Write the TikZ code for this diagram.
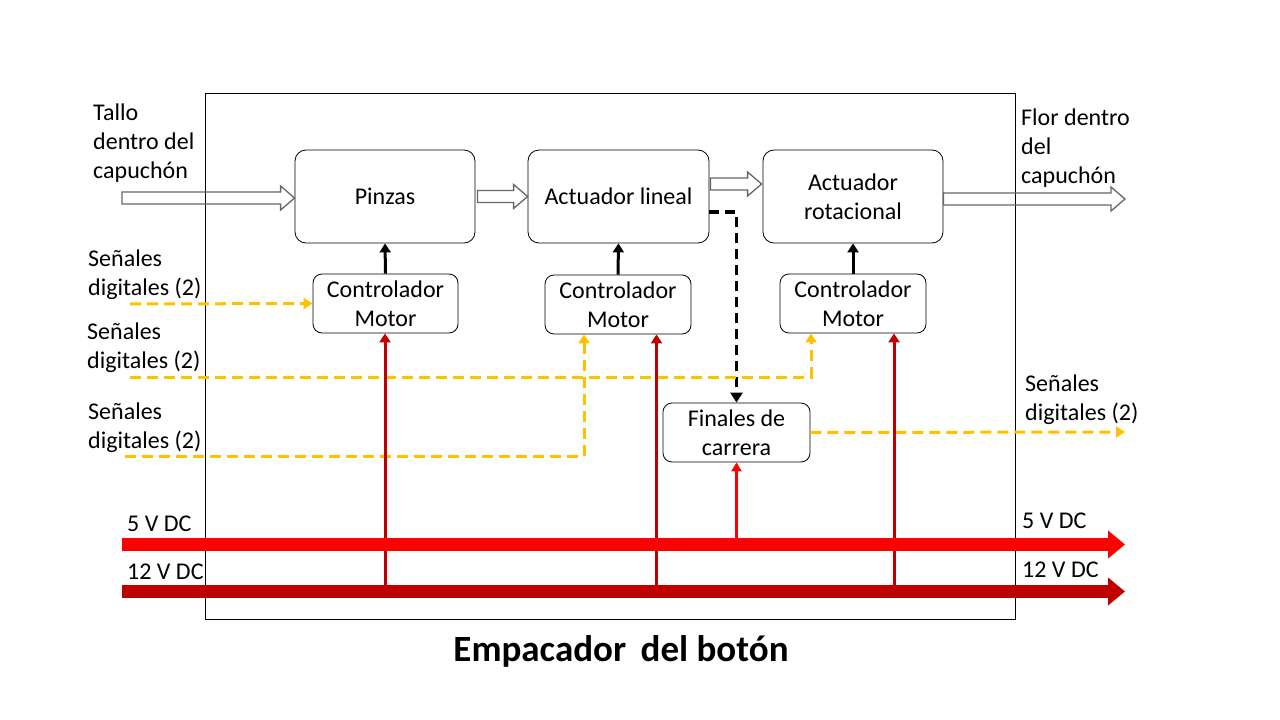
\documentclass[tikz,border=0pt]{standalone}
\usepackage{fontspec}
\setmainfont{Carlito}
\usetikzlibrary{arrows.meta,calc}
\definecolor{yel}{HTML}{FFC000}
\definecolor{dred}{HTML}{C00000}
\definecolor{bred}{HTML}{FF0000}
\begin{document}
\begin{tikzpicture}[x=1pt,y=-1pt,
  every node/.style={font=\fontsize{24}{29}\selectfont},
  big/.style={draw, rounded corners=11pt, line width=0.8pt, minimum width=180pt, minimum height=93pt, align=center, inner sep=0pt},
  ctrl/.style={draw, rounded corners=9pt, line width=0.8pt, minimum width=146pt, minimum height=59pt, align=center, inner sep=0pt},
  lbl/.style={align=left, inner sep=0pt, anchor=base west},
  blk/.style={line width=3pt, -{Triangle[length=9pt,width=11pt]}},
  yl/.style={draw=yel, line width=3pt, dash pattern=on 11pt off 6pt, -{Triangle[length=9pt,width=11pt]}},
  dl/.style={line width=3.5pt, dash pattern=on 10pt off 6pt, -{Triangle[length=10pt,width=12pt]}},
  pw/.style={draw=dred, line width=3pt, -{Triangle[length=9pt,width=11pt]}},
  pw5/.style={draw=bred, line width=2.5pt, -{Triangle[length=9pt,width=10pt]}},
  bus/.style={line width=13pt, -{Triangle[length=17pt,width=27pt]}},
  hollow/.style={draw=black!60, line width=1.3pt,
    to path={let \p1=(\tikztostart), \p2=(\tikztotarget) in
      (\x1,{\y1+6pt}) -- ({\x2-14pt},{\y1+6pt}) -- ({\x2-14pt},{\y1+12pt}) -- (\x2,\y1)
      -- ({\x2-14pt},{\y1-12pt}) -- ({\x2-14pt},{\y1-6pt}) -- (\x1,{\y1-6pt}) -- cycle}}
]
\path[use as bounding box] (0,0) rectangle (1280,720);

% main frame
\draw[line width=1pt] (205,93) rectangle (1015,619);

% blocks
\node[big] (PZ) at (385,196.5) {Pinzas};
\node[big, minimum width=181pt] (AL) at (618.5,196.5) {Actuador lineal};
\node[big] (AR) at (853,196.5) {Actuador\\rotacional};
\node[ctrl, minimum width=145pt] (C1) at (385.5,303.5) {Controlador\\Motor};
\node[ctrl] (C2) at (618,304.5) {Controlador\\Motor};
\node[ctrl] (C3) at (853,303.5) {Controlador\\Motor};
\node[ctrl, minimum width=147pt] (FC) at (736.5,432.5) {Finales de\\carrera};

% coordinates
\coordinate (in1) at (122,198);
\coordinate (pzo) at ($(PZ.east)+(2,0)$);
\coordinate (alo) at ($(AL.east)+(1,-12.5)$);
\coordinate (aln) at ($(AR.west)+(-1,0)$);
\coordinate (aro) at ($(AR.east)+(0,2.5)$);
\coordinate (out1) at (1125,199);
\coordinate (y1s) at (130,304);
\coordinate (y2s) at (130,377);
\coordinate (y3s) at (125,456);
\coordinate (y4e) at (1125,432);
\coordinate (c3y) at ($(C3.south)+(-42,0)$);
\coordinate (c2y) at ($(C2.south)+(-34,0)$);
\coordinate (b5s) at (122,544.5);
\coordinate (b5e) at (1125,544.5);
\coordinate (b12s) at (122,591.5);
\coordinate (b12e) at (1125,591.5);
\coordinate (c1r) at ($(C1.south)+(-0.5,0)$);
\coordinate (c2r) at ($(C2.south)+(38.5,0)$);
\coordinate (c3r) at ($(C3.south)+(41,0)$);
\coordinate (alx) at ($(AL.east)+(0,15.5)$);

% hollow flow arrows
\draw[hollow] (in1) to (PZ.west);
\draw[hollow] (pzo) to (AL.west);
\draw[hollow] (alo) to (aln);
\draw[hollow] (aro) to (out1);

% controller to actuators
\draw[blk] (C1.north) -- (PZ.south);
\draw[blk] (C2.north) -- (AL.south);
\draw[blk] (C3.north) -- (AR.south);

% dashed black from actuator to limit switches
\draw[dl] (alx) -| (FC.north);

% digital signals
\draw[yl] (y1s) -- (C1.west);
\draw[yl] (y2s) -| (c3y);
\draw[yl] (y3s) -| (c2y);
\draw[yl] (FC.east) -- (y4e);

% power feeds
\draw[pw] (c1r |- b12s) -- (c1r);
\draw[pw] (c2r |- b12s) -- (c2r);
\draw[pw] (c3r |- b12s) -- (c3r);
\draw[pw5] (FC.south |- b5s) -- (FC.south);

% buses
\draw[bus, draw=bred] (b5s) -- (b5e);
\draw[bus, draw=dred] (b12s) -- (b12e);

% labels (base anchor = baseline of last line)
\node[lbl] (t1) at (93,178) {Tallo\\dentro del\\capuchón};
\node[lbl] (t2) at (1021,183) {Flor dentro\\del\\capuchón};
\node[lbl] (s1) at (88,295) {Señales\\digitales (2)};
\node[lbl] (s2) at (87,368) {Señales\\digitales (2)};
\node[lbl] (s3) at (88,448) {Señales\\digitales (2)};
\node[lbl] (s4) at (1025,420) {Señales\\digitales (2)};
\node[lbl] (v1) at (127,531) {5 V DC};
\node[lbl] (v2) at (127,579) {12 V DC};
\node[lbl] (v3) at (1022,528) {5 V DC};
\node[lbl] (v4) at (1022,577) {12 V DC};
\node[inner sep=0pt, anchor=base, font=\fontsize{37}{44}\selectfont\bfseries] (title) at (621,661) {Empacador\, del botón};
\end{tikzpicture}
\end{document}
